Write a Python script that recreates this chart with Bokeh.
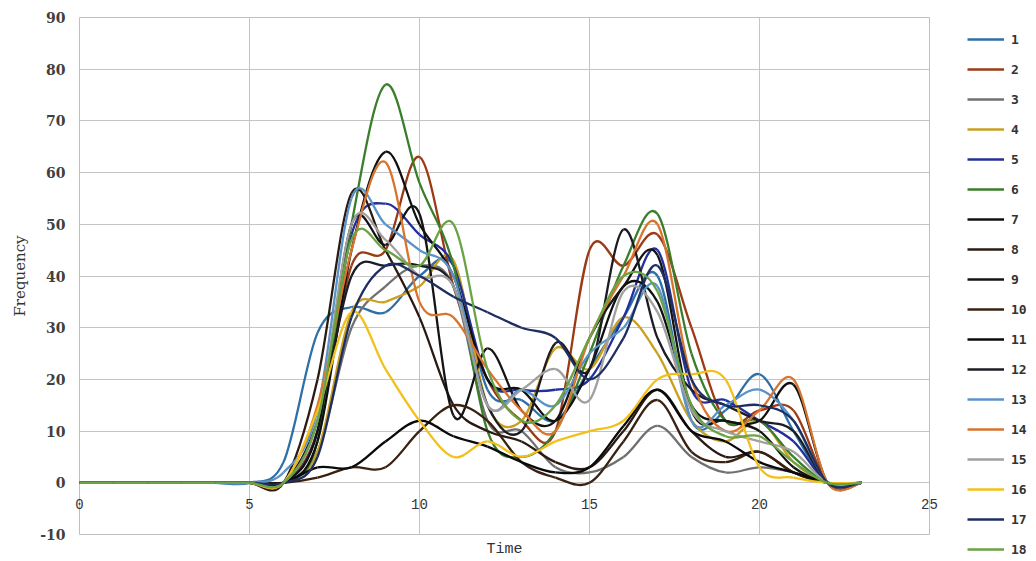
import numpy as np
from bokeh.plotting import figure
from bokeh.models import (Legend, LegendItem, Title, PrintfTickFormatter, FixedTicker, Range1d)
from bokeh.embed import file_html
from bokeh.resources import INLINE

times = list(range(24))

s1 = [0, 0, 0, 0, 0, 0, 4, 29, 34, 33, 40, 42, 18, 16, 12, 22, 32, 40, 12, 14, 21, 10, 0, 0]
s2 = [0, 0, 0, 0, 0, 0, 0, 10, 42, 45, 63, 38, 20, 12, 10, 45, 42, 48, 30, 12, 14, 14, 0, 0]
s3 = [0, 0, 0, 0, 0, 0, 0, 6, 30, 38, 42, 38, 12, 10, 3, 2, 5, 11, 5, 2, 3, 2, 0, 0]
s4 = [0, 0, 0, 0, 0, 0, 0, 6, 33, 35, 38, 43, 15, 12, 26, 22, 32, 25, 12, 8, 12, 4, 0, 0]
s5 = [0, 0, 0, 0, 0, 0, 0, 10, 48, 54, 48, 42, 20, 18, 18, 20, 32, 45, 18, 16, 12, 8, 0, 0]
s6 = [0, 0, 0, 0, 0, 0, 0, 8, 50, 77, 58, 42, 10, 5, 10, 25, 42, 52, 25, 12, 12, 5, 0, 0]
s7 = [0, 0, 0, 0, 0, 0, 0, 8, 45, 64, 50, 40, 20, 18, 12, 22, 38, 35, 15, 12, 12, 19, 0, 0]
s8 = [0, 0, 0, 0, 0, 0, 0, 20, 56, 45, 32, 15, 10, 8, 4, 3, 10, 18, 10, 5, 6, 2, 0, 0]
s9 = [0, 0, 0, 0, 0, 0, 0, 10, 50, 46, 52, 13, 26, 14, 12, 28, 38, 44, 14, 12, 10, 3, 0, 0]
s10 = [0, 0, 0, 0, 0, 0, 0, 1, 3, 3, 10, 15, 12, 4, 1, 0, 8, 16, 6, 4, 6, 2, 0, 0]
s11 = [0, 0, 0, 0, 0, 0, 0, 3, 3, 8, 12, 9, 7, 4, 2, 3, 11, 18, 10, 8, 4, 2, 0, 0]
s12 = [0, 0, 0, 0, 0, 0, 0, 12, 40, 42, 42, 38, 15, 10, 27, 22, 49, 28, 18, 15, 12, 10, 0, 0]
s13 = [0, 0, 0, 0, 0, 0, 2, 14, 55, 50, 45, 40, 15, 18, 15, 25, 30, 38, 12, 15, 18, 12, 0, 0]
s14 = [0, 0, 0, 0, 0, 0, 0, 15, 45, 62, 35, 32, 22, 14, 10, 28, 40, 50, 20, 10, 14, 20, 0, 0]
s15 = [0, 0, 0, 0, 0, 0, 0, 12, 50, 47, 40, 38, 15, 18, 22, 16, 37, 33, 14, 10, 8, 6, 0, 0]
s16 = [0, 0, 0, 0, 0, 0, 0, 14, 33, 22, 12, 5, 8, 5, 8, 10, 12, 20, 21, 20, 3, 1, 0, 0]
s17 = [0, 0, 0, 0, 0, 0, 0, 5, 32, 42, 40, 36, 33, 30, 28, 20, 28, 42, 20, 15, 15, 12, 0, 0]
s18 = [0, 0, 0, 0, 0, 0, 0, 12, 47, 45, 42, 50, 22, 12, 15, 28, 40, 37, 15, 9, 9, 4, 0, 0]

series = [s1, s2, s3, s4, s5, s6, s7, s8, s9, s10, s11, s12, s13, s14, s15, s16, s17, s18]
names = [str(i) for i in range(1, 19)]
colors = ["#2E6FA8", "#9C3A16", "#707070", "#C9A020", "#23309A", "#3A7D2A",
          "#101010", "#2A1A12", "#141414", "#3A2212", "#0A0A0A", "#1C1C24",
          "#5A93C8", "#D9742E", "#A0A0A0", "#F2C01A", "#1E2E60", "#6AA244"]

x_ticks = [0, 5, 10, 15, 20, 25]
y_ticks = [-10, 0, 10, 20, 30, 40, 50, 60, 70, 80, 90]

p = figure(frame_width=850, frame_height=517, output_backend="svg", toolbar_location=None,
           x_range=Range1d(0, 25), y_range=Range1d(-10, 90),
           min_border_left=79, min_border_right=96, min_border_top=17, min_border_bottom=26,
           background_fill_color="white", border_fill_color="white")
p.outline_line_color = "#BFBFBF"

grid_col = "#C4C4C4"
p.xgrid.ticker = FixedTicker(ticks=x_ticks)
p.ygrid.ticker = FixedTicker(ticks=y_ticks)
p.xgrid.grid_line_color = grid_col
p.ygrid.grid_line_color = grid_col

# x axis: labels pulled up so that they sit just under the y = 0 line
xa = p.xaxis[0]
xa.ticker = FixedTicker(ticks=x_ticks)
xa.axis_line_color = None
xa.major_tick_line_color = None
xa.minor_tick_line_color = None
xa.major_label_text_font = "Liberation Mono"
xa.major_label_text_font_size = "14px"
xa.major_label_text_color = "#333333"
xa.major_label_standoff = -42

ya = p.yaxis[0]
ya.ticker = FixedTicker(ticks=y_ticks)
ya.formatter = PrintfTickFormatter(format="%d")
ya.axis_line_color = None
ya.major_tick_line_color = None
ya.minor_tick_line_color = None
ya.major_label_text_font = "DejaVu Serif"
ya.major_label_text_font_size = "14px"
ya.major_label_text_font_style = "bold"
ya.major_label_text_color = "#404040"
ya.major_label_standoff = 8
ya.axis_label = "Frequency"
ya.axis_label_text_font = "DejaVu Serif"
ya.axis_label_text_font_size = "15px"
ya.axis_label_text_font_style = "normal"
ya.axis_label_text_color = "#333333"
ya.axis_label_standoff = 8

items = []
t = np.array(times, dtype=float)
for name, ys, col in zip(names, series, colors):
    y = np.array(ys, dtype=float)
    tp = np.concatenate([[t[0]], t, [t[-1]]])
    yp = np.concatenate([[y[0]], y, [y[-1]]])
    n = len(t)
    x0 = t[:-1]; x1 = t[1:]
    y0 = y[:-1]; y1 = y[1:]
    cx0 = x0 + (tp[2:n + 1] - tp[0:n - 1]) / 6.0
    cy0 = y0 + (yp[2:n + 1] - yp[0:n - 1]) / 6.0
    cx1 = x1 - (tp[3:n + 2] - tp[1:n]) / 6.0
    cy1 = y1 - (yp[3:n + 2] - yp[1:n]) / 6.0
    r = p.bezier(x0=x0, y0=y0, x1=x1, y1=y1, cx0=cx0, cy0=cy0, cx1=cx1, cy1=cy1,
                 line_color=col, line_width=2.3)
    items.append(LegendItem(label=name, renderers=[r]))

legend = Legend(items=items, location=(38, -30), orientation="vertical",
                border_line_color=None, background_fill_alpha=0,
                padding=0, margin=0, spacing=0, glyph_height=30, label_height=30,
                glyph_width=37, label_standoff=7,
                label_text_font="DejaVu Sans Mono", label_text_font_size="13px",
                label_text_font_style="bold", label_text_color="#333333")
p.add_layout(legend, "right")

p.add_layout(Title(text="Time", align="center", text_font="Liberation Mono",
                   text_font_size="15px", text_font_style="normal",
                   text_color="#333333", standoff=8), "below")

open("out.html", "w").write(file_html(p, INLINE))
